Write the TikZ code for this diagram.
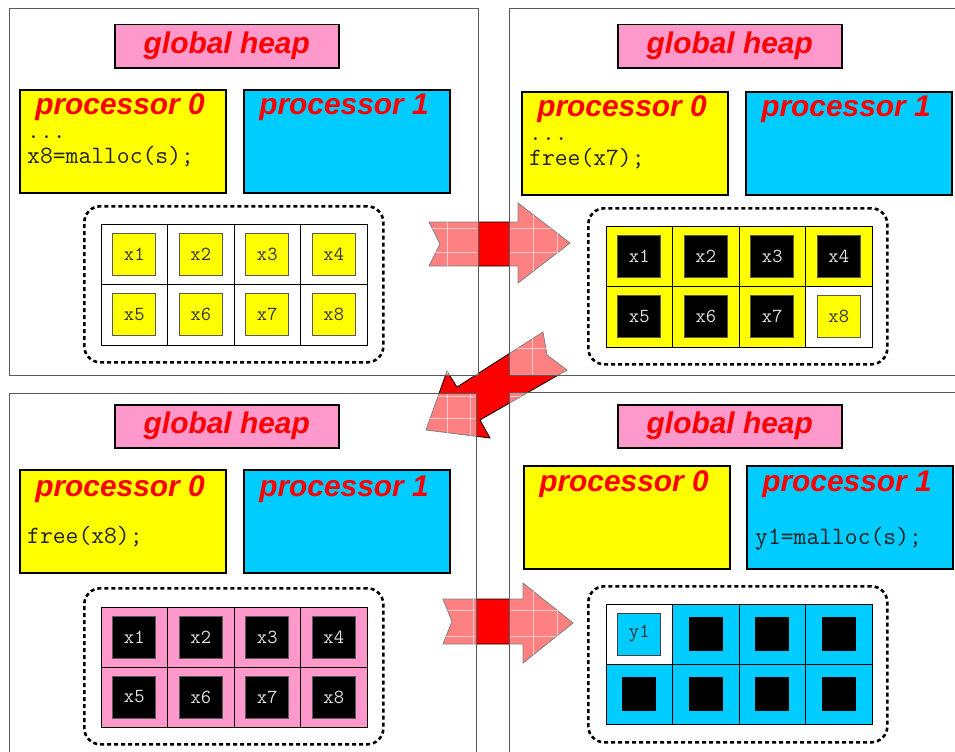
\documentclass[tikz,border=0pt]{standalone}
\usepackage{fontspec}
\setmainfont{Liberation Sans}
\definecolor{heappink}{HTML}{FF99CC}
\definecolor{procyellow}{HTML}{FFFF00}
\definecolor{proccyan}{HTML}{00CCFF}
\definecolor{framegray}{HTML}{5A5A5A}

% one 4x2 block of heap cells: #1 name prefix, #2/#3 top-left corner,
% #4 row height, #5 list of col/row/cell style/square style/label
\newcommand\heapgrid[5]{%
  \foreach \c/\r/\cs/\ss/\t in {#5}{%
    \node[cellbox,\cs,minimum height=#4bp] (#1c\r\c)
      at ({#2+66.5*(\c-0.5)},{#3+#4*(\r-0.5)}) {};
    \node[\ss] (#1s\r\c) at (#1c\r\c.center) {\t};
  }}

% outlines of the three transition arrows
\newcommand\arrowone{(429,222) -- (518,222) -- (518,203) -- (570,243) -- (518,283)
  -- (518,266) -- (429,266) -- (440,244) -- cycle}
\newcommand\arrowtwo{(543,332) -- (547,355) -- (567,370) -- (480,420) -- (490,438)
  -- (426,430) -- (447,371) -- (457,387) -- cycle}
\newcommand\arrowthree{(443,599) -- (523,599) -- (523,583) -- (573,623) -- (523,663)
  -- (523,644) -- (443,644) -- (452,621.5) -- cycle}
% the four snapshot frames
\newcommand\panelA{(9,9) rectangle (478,375)}
\newcommand\panelB{(509,9) rectangle (970,375)}
\newcommand\panelC{(9,393) rectangle (476,770)}
\newcommand\panelD{(509,392) rectangle (970,770)}

\begin{document}
\begin{tikzpicture}[x=1bp,y=-1bp,
  panel/.style={draw=framegray,line width=1bp,fill=white,fill opacity=0.5},
  bigarrow/.style={fill=red,draw=black,line width=0.8bp,line join=miter},
  heapbox/.style={draw=black,line width=1.5bp,fill=heappink,inner sep=0pt,
    minimum width=224bp,minimum height=43bp,anchor=north west,text=red,
    font=\fontsize{30}{30}\selectfont\bfseries\itshape},
  procbox/.style={draw=black,line width=1.5bp,inner sep=0pt,anchor=north west,
    minimum width=206bp,minimum height=103bp},
  pzero/.style={procbox,fill=procyellow},
  pone/.style={procbox,fill=proccyan},
  title/.style={font=\fontsize{30}{30}\selectfont\bfseries\itshape,text=red,
    inner sep=0pt,anchor=base},
  code/.style={font=\ttfamily\fontsize{25}{25}\selectfont,inner sep=0pt,
    anchor=base west,text=black!88},
  dots/.style={code,text height=4bp,text depth=0pt},
  poolbox/.style={draw=black,line width=2.6bp,dash pattern=on 4bp off 3bp,
    rounded corners=16bp,inner sep=0pt,anchor=north west,
    minimum width=299bp,minimum height=156bp},
  cellbox/.style={draw=black,line width=0.8bp,inner sep=0pt,minimum width=66.5bp},
  ycell/.style={fill=procyellow},
  wcell/.style={fill=white},
  pcell/.style={fill=heappink},
  ccell/.style={fill=proccyan},
  sqbase/.style={inner sep=0pt,minimum width=43bp,minimum height=42bp,
    line width=0.8bp,font=\ttfamily\fontsize{20}{20}\selectfont},
  ysq/.style={sqbase,fill=procyellow,draw=framegray,text=black!80},
  bsq/.style={sqbase,fill=black,draw=framegray,text=black!12},
  csq/.style={sqbase,fill=proccyan,draw=black!75,text=black!80},
  bsmall/.style={inner sep=0pt,minimum size=34bp,fill=black},
  texture/.style={white,line width=0.7bp,opacity=0.6},
]
\useasboundingbox (0,0) rectangle (955,752);
\clip (0,0) rectangle (955,752);

% transition arrows, partly seen through the panels
\filldraw[bigarrow] \arrowone;
\filldraw[bigarrow] \arrowtwo;
\filldraw[bigarrow] \arrowthree;

% the four snapshots
\filldraw[panel] \panelA;
\filldraw[panel] \panelB;
\filldraw[panel] \panelC;
\filldraw[panel] \panelD;

% faint grid texture on the arrow parts that lie under the panels
\begin{scope}
  \clip (10,10) rectangle (477,374) (510,10) rectangle (969,374)
        (10,394) rectangle (475,769) (510,393) rectangle (969,769);
  \begin{scope}
    \clip \arrowone;
    \foreach \gx in {447,533,557} \draw[texture] (\gx,200) -- (\gx,290);
    \foreach \gy in {228,252} \draw[texture] (425,\gy) -- (575,\gy);
  \end{scope}
  \begin{scope}
    \clip \arrowtwo;
    \foreach \gx in {447,470,532} \draw[texture] (\gx,325) -- (\gx,445);
    \foreach \gy in {348,396,418} \draw[texture] (420,\gy) -- (575,\gy);
  \end{scope}
  \begin{scope}
    \clip \arrowthree;
    \foreach \gx in {473,533,557} \draw[texture] (\gx,580) -- (\gx,665);
    \foreach \gy in {610,636} \draw[texture] (440,\gy) -- (575,\gy);
  \end{scope}
\end{scope}

% ---- step 1: processor 0 allocates x8
\node[heapbox] (heapA) at (114,24) {global heap};
\node[pzero] (p0A) at (19,89) {};
\node[pone]  (p1A) at (243,89) {};
\node[title] (t0A) at (120,114) {processor 0};
\node[title] (t1A) at (344,114) {processor 1};
\node[dots] (dotsA) at (27,138) {...};
\node[code] (codeA) at (27,163) {x8=malloc(s);};
\node[poolbox] (poolA) at (83,205) {};
\heapgrid{A}{101}{224}{60.5}{1/1/wcell/ysq/x1,2/1/wcell/ysq/x2,3/1/wcell/ysq/x3,4/1/wcell/ysq/x4,
  1/2/wcell/ysq/x5,2/2/wcell/ysq/x6,3/2/wcell/ysq/x7,4/2/wcell/ysq/x8}

% ---- step 2: processor 0 frees x7
\node[heapbox] (heapB) at (617,24) {global heap};
\node[pzero] (p0B) at (521,91) {};
\node[pone]  (p1B) at (745,91) {};
\node[title] (t0B) at (622,116) {processor 0};
\node[title] (t1B) at (846,116) {processor 1};
\node[dots] (dotsB) at (529,140) {...};
\node[code] (codeB) at (529,165) {free(x7);};
\node[poolbox] (poolB) at (587,207) {};
\heapgrid{B}{606}{226}{60.5}{1/1/ycell/bsq/x1,2/1/ycell/bsq/x2,3/1/ycell/bsq/x3,4/1/ycell/bsq/x4,
  1/2/ycell/bsq/x5,2/2/ycell/bsq/x6,3/2/ycell/bsq/x7,4/2/wcell/ysq/x8}

% ---- step 3: processor 0 frees x8, block returns to the global heap
\node[heapbox] (heapC) at (114,404) {global heap};
\node[pzero] (p0C) at (19,469) {};
\node[pone]  (p1C) at (243,469) {};
\node[title] (t0C) at (120,496) {processor 0};
\node[title] (t1C) at (344,496) {processor 1};
\node[code] (codeC) at (27,543) {free(x8);};
\node[poolbox] (poolC) at (83,587) {};
\heapgrid{C}{101}{607}{60}{1/1/pcell/bsq/x1,2/1/pcell/bsq/x2,3/1/pcell/bsq/x3,4/1/pcell/bsq/x4,
  1/2/pcell/bsq/x5,2/2/pcell/bsq/x6,3/2/pcell/bsq/x7,4/2/pcell/bsq/x8}

% ---- step 4: processor 1 allocates y1 from the same block
\node[heapbox] (heapD) at (617,404) {global heap};
\node[pzero] (p0D) at (523,465) {};
\node[pone]  (p1D) at (746,465) {};
\node[title] (t0D) at (624,491) {processor 0};
\node[title] (t1D) at (847,491) {processor 1};
\node[code] (codeD) at (755,544) {y1=malloc(s);};
\node[poolbox] (poolD) at (587,585) {};
\heapgrid{D}{606}{604}{60}{1/1/wcell/csq/y1,2/1/ccell/bsmall/{},3/1/ccell/bsmall/{},4/1/ccell/bsmall/{},
  1/2/ccell/bsmall/{},2/2/ccell/bsmall/{},3/2/ccell/bsmall/{},4/2/ccell/bsmall/{}}
\end{tikzpicture}
\end{document}
